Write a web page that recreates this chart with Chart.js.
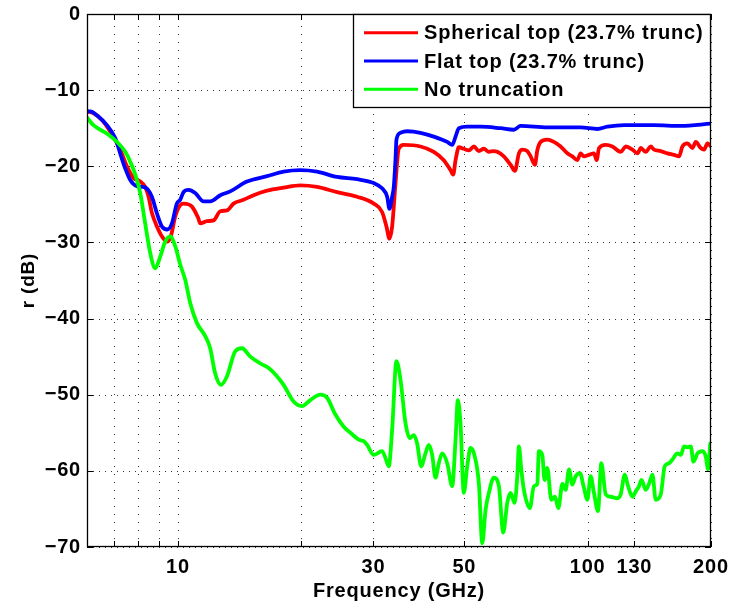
<!DOCTYPE html>
<html>
<head>
<meta charset="utf-8">
<title>Reflection r (dB) vs frequency</title>
<script src="https://cdn.jsdelivr.net/npm/chart.js@4.4.1/dist/chart.umd.min.js"></script>
<style>
    html, body { margin: 0; padding: 0; background: #fff; }
    #wrap { width: 731px; height: 610px; }
</style>
</head>
<body>
<div id="wrap"><canvas id="rChart" width="731" height="610"></canvas></div>
<script>
// Reflection r (dB) against frequency (GHz) for three lens tops

// Spherical top, 23.7% truncation
const sphericalFreq = [6.0, 6.22, 6.57, 6.95, 7.23, 7.51, 7.78, 8.09, 8.32, 8.48, 8.64, 8.89, 9.14, 9.40, 9.61, 9.85,
    10.13, 10.32, 10.82, 11.21, 11.34, 11.77, 12.22, 12.69, 13.17, 13.67, 14.46, 15.30, 16.50, 18.11, 19.90,
    21.86, 24.46, 27.37, 30.06, 31.50, 32.28, 32.83, 33.33, 33.96, 34.59, 35.58, 39.08, 42.12, 44.56, 46.26,
    46.97, 47.6, 48.5, 49.86, 51.29, 52.77, 54.26, 55.81, 57.4, 59.03, 60.17, 62.44, 64.84, 66.43, 67.96,
    69.27, 71.25, 72.6, 74.35, 75.36, 76.8, 79.71, 82.73, 85.9, 89.22, 91.76, 94.35, 96.1, 97.9, 100.7,
    103.6, 105.2, 106.6, 110.7, 114.9, 120.4, 123.9, 128.6, 132.3, 134.8, 138.6, 142.5, 145.2, 150.8,
    156.6, 162.5, 167.1, 170.3, 175.2, 180.2, 183.6, 188.8, 192.4, 196.1, 200];
const sphericalDb = [-12.8, -13.0, -14.1, -16.1, -17.8, -20.0, -21.5, -22.0, -22.7, -24.0, -26.1, -27.9, -29.2, -29.9, -29.2, -26.6,
    -25.1, -24.9, -25.3, -26.8, -27.5, -27.2, -27.1, -25.9, -25.8, -24.9, -24.4, -23.8, -23.2, -22.8, -22.5,
    -22.7, -23.4, -24.0, -24.9, -26.0, -27.9, -29.5, -27.9, -22.3, -17.7, -17.2, -17.4, -18.1, -19.2, -20.5,
    -21.1, -19.2, -17.5, -17.7, -17.9, -17.4, -18.0, -17.7, -18.1, -18.0, -18.1, -18.7, -19.8, -20.6, -18.3,
    -17.8, -18.0, -18.7, -19.8, -17.9, -16.8, -16.5, -16.8, -17.4, -18.3, -18.7, -19.2, -18.3, -18.7, -18.5,
    -18.3, -19.2, -17.6, -17.2, -17.4, -18.1, -17.4, -17.8, -18.3, -17.6, -18.1, -17.4, -17.8, -18.0,
    -18.3, -18.5, -18.7, -17.4, -17.0, -17.6, -16.8, -17.6, -17.8, -17.0, -17.4];

// Flat top, 23.7% truncation
const flatFreq = [6.0, 6.11, 6.34, 6.71, 7.03, 7.23, 7.44, 7.65, 7.94, 8.32, 8.64, 8.89, 9.14, 9.43, 9.67, 9.94,
    10.13, 10.32, 10.61, 11.02, 11.55, 11.99, 12.69, 13.42, 14.74, 16.50, 18.11, 19.90, 21.86, 24.46, 27.37,
    30.06, 31.50, 32.41, 32.83, 33.33, 33.64, 33.96, 34.15, 34.93, 36.27, 39.08, 42.12, 45.42, 46.71, 47.6,
    48.5, 50.83, 54.77, 61.3, 66.05, 68.6, 79.71, 96.1, 105.6, 111.7, 122.7, 145.2, 168.8, 200];
const flatDb = [-12.8, -12.8, -13.3, -14.6, -16.3, -18.3, -20.3, -21.8, -22.6, -22.8, -24.0, -26.2, -27.9, -28.3, -27.5, -24.9,
    -24.4, -23.4, -23.1, -23.5, -24.6, -24.6, -23.8, -23.3, -22.0, -21.3, -20.7, -20.5, -20.7, -21.4, -21.7,
    -22.2, -22.9, -24.0, -25.6, -24.0, -22.7, -19.2, -16.5, -15.6, -15.4, -15.6, -16.1, -16.8, -17.2, -16.1,
    -15.0, -14.8, -14.8, -15.0, -15.2, -14.7, -14.9, -14.9, -15.1, -14.8, -14.6, -14.6, -14.7, -14.4];

// No truncation
const noTruncFreq = [6.0, 6.22, 6.71, 7.10, 7.44, 7.65, 7.87, 8.09, 8.32, 8.56,
    8.80, 9.05, 9.31, 9.58, 9.85, 10.13, 10.42, 10.72, 11.13, 11.66,
    11.99, 12.33, 12.74, 13.17, 13.8, 14.33, 15.02, 15.89, 16.65, 17.46,
    18.11, 19.16, 20.09, 21.05, 22.27, 23.12, 24.23, 25.39, 26.36, 27.62,
    28.41, 28.96, 30.06, 31.50, 32.10, 32.70, 33.33, 34.15, 34.93, 35.92,
    36.81, 37.64, 38.36, 39.24, 40.2, 40.95, 41.74, 42.52, 43.33, 44.16,
    45.42, 46.71, 47.6, 48.22, 48.93, 49.86, 50.83, 51.77, 52.77, 54.26,
    55.31, 56.35, 57.4, 59.03, 60.72, 62.23, 63.65, 64.84, 66.32, 67.34,
    67.96, 68.87, 69.89, 72.28, 73.93, 75.36, 76.03, 77.49, 78.5, 79.71,
    81.53, 83.2, 84.8, 86.76, 88.39, 90.04, 91.76, 93.47, 95.76, 97.9,
    99.84, 101.7, 103.6, 105.98, 108.0, 110.7, 113.8, 118.2, 120.4, 123.2,
    125.5, 128.6, 131.0, 133.5, 135.3, 138.6, 141.2, 143.9, 146.6, 150.8,
    154.2, 158.0, 161.0, 165.6, 168.8, 171.9, 175.2, 178.5, 181.2, 185.4,
    190.7, 194.2, 196.7, 199.2];
const noTruncDb = [-13.6, -14.6, -15.7, -16.8, -18.1, -19.4, -21.1, -23.5, -27.5, -31.4,
    -33.4, -31.9, -29.9, -29.2, -30.5, -32.9, -34.9, -38.0, -40.6, -42.3,
    -43.9, -47.2, -48.7, -47.6, -44.3, -43.9, -45.0, -45.9, -46.5, -47.6,
    -48.7, -50.9, -51.5, -50.7, -50.0, -50.4, -52.6, -54.2, -55.0, -55.9,
    -56.1, -56.6, -57.9, -57.4, -58.3, -59.4, -54.6, -45.6, -48.0, -53.7,
    -55.7, -55.3, -56.4, -59.4, -57.7, -56.6, -57.9, -60.9, -59.0, -57.7,
    -59.0, -62.0, -55.9, -50.7, -53.7, -62.9, -59.4, -57.0, -57.7, -61.6,
    -69.5, -65.1, -62.9, -60.9, -62.0, -68.1, -64.2, -62.9, -64.2, -60.7,
    -56.8, -59.8, -62.5, -64.9, -62.0, -61.7, -57.4, -57.9, -61.2, -59.6,
    -63.8, -63.4, -64.9, -61.7, -62.5, -59.8, -61.8, -60.7, -60.3, -62.2,
    -63.8, -60.7, -62.9, -65.3, -59.0, -63.1, -63.4, -63.6, -63.1, -60.5,
    -62.0, -63.4, -62.7, -62.0, -61.2, -62.5, -61.7, -60.5, -63.8, -63.1,
    -59.4, -59.0, -58.5, -57.7, -57.9, -56.8, -56.9, -56.8, -58.8, -57.7,
    -57.4, -58.1, -59.8, -56.4];

// axis ticks
const gridFreqs = [7, 8, 9, 10, 20, 30, 50, 100, 130, 200];
const labelledFreqs = [10, 30, 50, 100, 130, 200];
const dbTicks = [0, -10, -20, -30, -40, -50, -60, -70];

const FONT_FAMILY = "'Liberation Sans', Arial, Helvetica, sans-serif";

const toPoints = (freqs, values) => freqs.map((f, i) => ({ x: f, y: values[i] }));

// wider glyph spacing for all canvas text
const textSpacing = {
    id: 'textSpacing',
    beforeDraw(chart) {
        chart.ctx.letterSpacing = '0.8px';
    }
};

// dotted grid under the curves
const dottedGrid = {
    id: 'dottedGrid',
    beforeDatasetsDraw(chart) {
        const { ctx, chartArea: a, scales } = chart;
        ctx.save();
        ctx.strokeStyle = '#333';
        ctx.lineWidth = 1;
        ctx.setLineDash([1, 7]);
        ctx.beginPath();
        gridFreqs.forEach(f => {
            const px = Math.round(scales.x.getPixelForValue(f)) + 0.5;
            ctx.moveTo(px, a.bottom);
            ctx.lineTo(px, a.top);
        });
        ctx.stroke();
        ctx.setLineDash([1, 5]);
        ctx.beginPath();
        dbTicks.forEach(v => {
            const py = Math.round(scales.y.getPixelForValue(v)) + 0.5;
            ctx.moveTo(a.left, py);
            ctx.lineTo(a.right, py);
        });
        ctx.stroke();
        ctx.restore();
    }
};

// solid box round the plot with inward tick marks on all four sides
const axesFrame = {
    id: 'axesFrame',
    afterDraw(chart) {
        const { ctx, chartArea: a, scales } = chart;
        const len = 6;
        ctx.save();
        ctx.strokeStyle = '#000';
        ctx.lineWidth = 1;
        ctx.beginPath();
        gridFreqs.forEach(f => {
            const px = Math.round(scales.x.getPixelForValue(f)) + 0.5;
            ctx.moveTo(px, a.bottom);
            ctx.lineTo(px, a.bottom - len);
            ctx.moveTo(px, a.top);
            ctx.lineTo(px, a.top + len);
        });
        dbTicks.forEach(v => {
            const py = Math.round(scales.y.getPixelForValue(v)) + 0.5;
            ctx.moveTo(a.left, py);
            ctx.lineTo(a.left + len, py);
            ctx.moveTo(a.right, py);
            ctx.lineTo(a.right - len, py);
        });
        ctx.stroke();
        ctx.lineWidth = 1.3;
        ctx.strokeRect(Math.round(a.left) + 0.5, Math.round(a.top) + 0.5,
            Math.round(a.right - a.left) - 1, Math.round(a.bottom - a.top) - 1);
        ctx.restore();
    }
};

// boxed legend in the upper right corner of the plot
const boxLegend = {
    id: 'boxLegend',
    afterDraw(chart) {
        const { ctx, chartArea: a } = chart;
        const w = 358, h = 94, rowGap = 28.3;
        const left = Math.round(a.right - w), top = Math.round(a.top);
        ctx.save();
        ctx.fillStyle = '#fff';
        ctx.fillRect(left, top, w, h);
        ctx.strokeStyle = '#000';
        ctx.lineWidth = 1.3;
        ctx.strokeRect(left + 0.5, top + 0.5, w - 1, h - 1);
        ctx.font = 'bold 20px ' + FONT_FAMILY;
        ctx.textBaseline = 'middle';
        ctx.textAlign = 'left';
        chart.options.plugins.boxLegend.items.forEach((di, row) => {
            const ds = chart.data.datasets[di];
            const y = top + 18.7 + row * rowGap;
            ctx.strokeStyle = ds.borderColor;
            ctx.lineWidth = 3;
            ctx.beginPath();
            ctx.moveTo(left + 11, y);
            ctx.lineTo(left + 65, y);
            ctx.stroke();
            ctx.fillStyle = '#000';
            ctx.fillText(ds.label, left + 71, y + 1);
        });
        ctx.restore();
    }
};

const lineStyle = {
    borderWidth: 3.8,
    pointRadius: 0,
    cubicInterpolationMode: 'monotone',
    borderJoinStyle: 'round',
    borderCapStyle: 'round',
    fill: false
};

new Chart(document.getElementById('rChart'), {
    type: 'line',
    data: {
        datasets: [
            { label: 'Spherical top (23.7% trunc)', data: toPoints(sphericalFreq, sphericalDb),
              borderColor: '#ff0000', order: 2, ...lineStyle },
            { label: 'Flat top (23.7% trunc)', data: toPoints(flatFreq, flatDb),
              borderColor: '#0000ff', order: 1, ...lineStyle },
            { label: 'No truncation', data: toPoints(noTruncFreq, noTruncDb),
              borderColor: '#00ff00', order: 0, ...lineStyle }
        ]
    },
    options: {
        responsive: false,
        animation: false,
        devicePixelRatio: 1,
        layout: { padding: { top: 14, right: 20, left: 0, bottom: 0 } },
        plugins: {
            legend: { display: false },
            tooltip: { enabled: false },
            boxLegend: { items: [0, 1, 2] }
        },
        scales: {
            x: {
                type: 'logarithmic',
                min: 6,
                max: 200,
                afterBuildTicks: axis => {
                    axis.ticks = gridFreqs.map(v => ({ value: v }));
                },
                afterFit: axis => {
                    axis.height = 63;
                    axis.paddingLeft = 0;
                    axis.paddingRight = 0;
                },
                grid: { display: false, drawTicks: false },
                border: { display: false },
                ticks: {
                    autoSkip: false,
                    maxRotation: 0,
                    padding: 8,
                    color: '#000',
                    font: { family: FONT_FAMILY, size: 20, weight: 'bold' },
                    callback: v => labelledFreqs.includes(v) ? String(v) : ''
                },
                title: {
                    display: true,
                    text: 'Frequency (GHz)',
                    color: '#000',
                    font: { family: FONT_FAMILY, size: 20, weight: 'bold' },
                    padding: { top: 0, bottom: 7 }
                }
            },
            y: {
                min: -70,
                max: 0,
                afterBuildTicks: axis => {
                    axis.ticks = dbTicks.map(v => ({ value: v }));
                },
                afterFit: axis => {
                    axis.width = 87;
                    axis.paddingTop = 0;
                    axis.paddingBottom = 0;
                },
                grid: { display: false, drawTicks: false },
                border: { display: false },
                ticks: {
                    padding: 6,
                    color: '#000',
                    font: { family: FONT_FAMILY, size: 20, weight: 'bold' },
                    callback: v => (v < 0 ? '\u2212' + Math.abs(v) : String(v))
                },
                title: {
                    display: true,
                    text: 'r (dB)',
                    color: '#000',
                    font: { family: FONT_FAMILY, size: 19, weight: 'bold' },
                    padding: { top: 17, bottom: 0 }
                }
            }
        }
    },
    plugins: [textSpacing, dottedGrid, axesFrame, boxLegend]
});
</script>
</body>
</html>
